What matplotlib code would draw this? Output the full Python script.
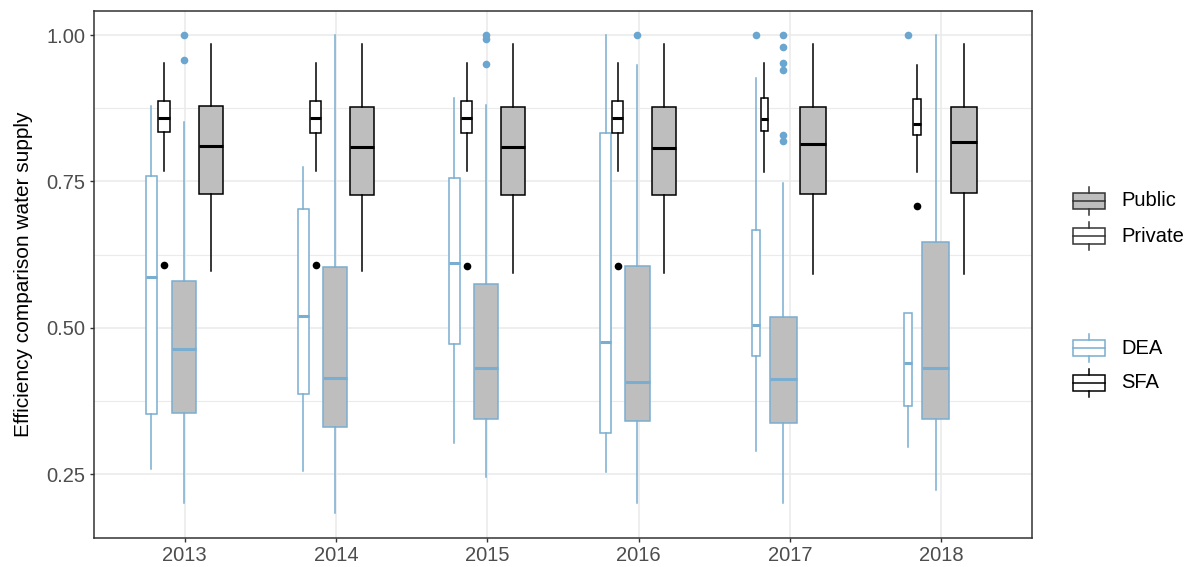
import matplotlib
matplotlib.use("Agg")
import matplotlib.pyplot as plt
from matplotlib.patches import Rectangle
import numpy as np

plt.rcParams['font.family'] = ['Liberation Sans', 'DejaVu Sans']

years = ['2013', '2014', '2015', '2016', '2017', '2018']

# DEA scores, private utilities
dea_pri_lo = [0.259, 0.256, 0.303, 0.253, 0.290, 0.297]
dea_pri_q1 = [0.352, 0.387, 0.472, 0.321, 0.452, 0.367]
dea_pri_med = [0.587, 0.520, 0.611, 0.476, 0.505, 0.440]
dea_pri_q3 = [0.759, 0.703, 0.756, 0.833, 0.667, 0.526]
dea_pri_hi = [0.878, 0.775, 0.893, 1.000, 0.926, 0.526]
dea_pri_out = [[], [], [], [], [1.0], [1.0]]

# SFA scores, private utilities
sfa_pri_lo = [0.768, 0.768, 0.768, 0.768, 0.766, 0.766]
sfa_pri_q1 = [0.835, 0.833, 0.833, 0.833, 0.836, 0.830]
sfa_pri_med = [0.858, 0.858, 0.858, 0.858, 0.856, 0.848]
sfa_pri_q3 = [0.887, 0.887, 0.887, 0.887, 0.892, 0.890]
sfa_pri_hi = [0.952, 0.952, 0.952, 0.952, 0.952, 0.949]
sfa_pri_out = [[0.607], [0.607], [0.605], [0.605], [], [0.708]]

# DEA scores, public utilities
dea_pub_lo = [0.200, 0.183, 0.246, 0.200, 0.200, 0.223]
dea_pub_q1 = [0.354, 0.331, 0.344, 0.341, 0.337, 0.344]
dea_pub_med = [0.463, 0.415, 0.431, 0.407, 0.412, 0.431]
dea_pub_q3 = [0.580, 0.603, 0.575, 0.605, 0.518, 0.646]
dea_pub_hi = [0.851, 1.000, 0.880, 0.949, 0.747, 1.000]
dea_pub_out = [[1.0, 0.958], [], [1.0, 0.993, 0.950], [1.0],
               [1.0, 0.980, 0.953, 0.941, 0.830, 0.819], []]

# SFA scores, public utilities
sfa_pub_lo = [0.597, 0.597, 0.594, 0.594, 0.592, 0.592]
sfa_pub_q1 = [0.728, 0.726, 0.726, 0.726, 0.728, 0.731]
sfa_pub_med = [0.810, 0.809, 0.809, 0.807, 0.814, 0.817]
sfa_pub_q3 = [0.879, 0.877, 0.877, 0.877, 0.877, 0.877]
sfa_pub_hi = [0.985, 0.985, 0.985, 0.985, 0.985, 0.985]
sfa_pub_out = [[], [], [], [], [], []]

# box widths (varwidth), in x units
width_pri = [0.074, 0.073, 0.073, 0.073, 0.049, 0.052]
width_pub = [0.161, 0.158, 0.160, 0.160, 0.177, 0.172]

BLUE = '#7aaed0'
BLUE_PT = '#6aa6d0'
GREY = '#bebebe'
DARK = '#333333'


def stats(lo, q1, med, q3, hi, out):
    return [dict(whislo=a, q1=b, med=c, q3=d, whishi=e, fliers=f)
            for a, b, c, d, e, f in zip(lo, q1, med, q3, hi, out)]


series = [
    (stats(dea_pri_lo, dea_pri_q1, dea_pri_med, dea_pri_q3, dea_pri_hi, dea_pri_out), 'white', BLUE, BLUE_PT, width_pri),
    (stats(sfa_pri_lo, sfa_pri_q1, sfa_pri_med, sfa_pri_q3, sfa_pri_hi, sfa_pri_out), 'white', 'black', 'black', width_pri),
    (stats(dea_pub_lo, dea_pub_q1, dea_pub_med, dea_pub_q3, dea_pub_hi, dea_pub_out), GREY, BLUE, BLUE_PT, width_pub),
    (stats(sfa_pub_lo, sfa_pub_q1, sfa_pub_med, sfa_pub_q3, sfa_pub_hi, sfa_pub_out), GREY, 'black', 'black', width_pub),
]

# dodge: boxes side by side, each in a slot of width/0.9, group centred on the year
x = np.arange(1, len(years) + 1)
slots = np.array([s[4] for s in series]) / 0.9
start = x - slots.sum(axis=0) / 2
centers = start + np.cumsum(slots, axis=0) - slots / 2

W, H = 1188, 567
fig = plt.figure(figsize=(W / 100, H / 100), dpi=100)
ax = fig.add_axes([94 / W, 1 - 538 / H, (1032 - 94) / W, (538 - 11) / H])

for i, (st, fill, edge, pt, w) in enumerate(series):
    ax.bxp(st, positions=centers[i], widths=w, patch_artist=True,
           showcaps=False, manage_ticks=False,
           boxprops=dict(facecolor=fill, edgecolor=edge, linewidth=1.1),
           medianprops=dict(color=edge, linewidth=2.2, solid_capstyle='butt'),
           whiskerprops=dict(color=edge, linewidth=1.1),
           flierprops=dict(marker='o', markerfacecolor=pt, markeredgecolor='none',
                           markersize=5.5))

ax.set_xlim(0.4, 6.6)
ax.set_ylim(0.141, 1.041)
ax.set_xticks(x)
ax.set_xticklabels(years)
ax.set_yticks([0.25, 0.5, 0.75, 1.0])
ax.set_yticklabels(['0.25', '0.50', '0.75', '1.00'])
ax.set_yticks([0.375, 0.625, 0.875], minor=True)
ax.grid(True, which='major', color='#ebebeb', linewidth=1.2, zorder=0)
ax.grid(True, which='minor', axis='y', color='#ebebeb', linewidth=0.8, zorder=0)
ax.set_axisbelow(True)
ax.tick_params(axis='both', which='major', length=3, width=1.0, color=DARK,
               labelsize=14.5, labelcolor='#4d4d4d', pad=3)
ax.tick_params(which='minor', length=0)
for sp in ax.spines.values():
    sp.set_color(DARK)
    sp.set_linewidth(1.1)

fig.text(24 / W, 1 - 274.5 / H, 'Efficiency comparison water supply',
         rotation=90, ha='center', va='center', fontsize=15)

# legends drawn in pixel coordinates
lg = fig.add_axes([0, 0, 1, 1])
lg.set_xlim(0, W)
lg.set_ylim(H, 0)
lg.axis('off')
keys = [('Public', 201, GREY, DARK), ('Private', 236, 'white', DARK),
        ('DEA', 348, 'white', BLUE), ('SFA', 383, 'white', 'black')]
for label, cy, fill, edge in keys:
    lg.add_patch(Rectangle((1073, cy - 8), 32, 16, facecolor=fill,
                           edgecolor=edge, linewidth=1.1))
    lg.plot([1073, 1105], [cy, cy], color=edge, linewidth=1.1)
    lg.plot([1089, 1089], [cy - 14, cy - 8], color=edge, linewidth=1.1)
    lg.plot([1089, 1089], [cy + 8, cy + 14], color=edge, linewidth=1.1)
    lg.text(1121, cy, label, ha='left', va='center', fontsize=14.5)

fig.savefig('out.png', dpi=100)
